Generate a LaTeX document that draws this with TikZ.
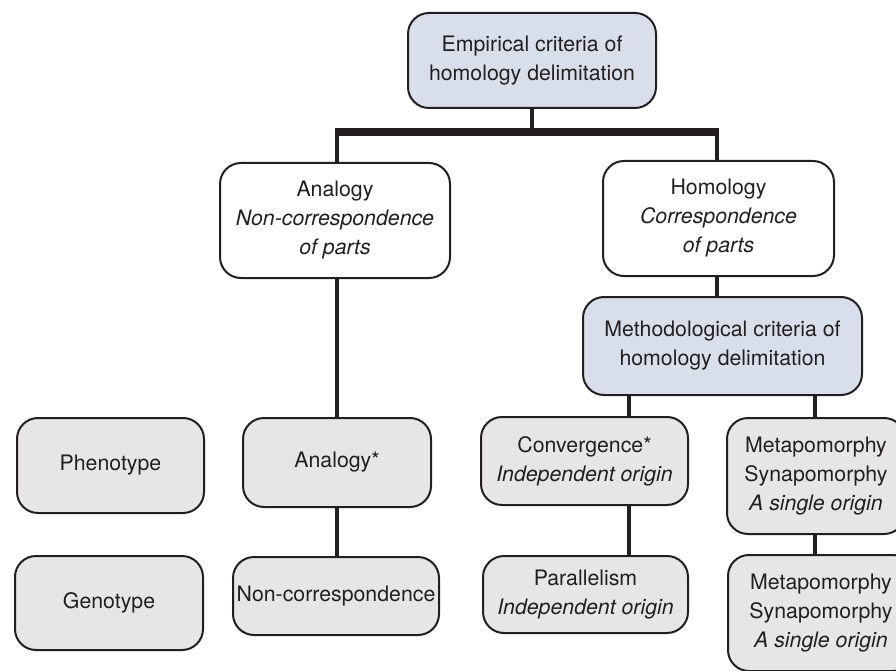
\documentclass[tikz,border=0pt]{standalone}
\usepackage{fontspec}
\setmainfont{TeX Gyre Heros}
\definecolor{ink}{HTML}{231F20}
\definecolor{bluefill}{HTML}{D8DFEB}
\definecolor{grayfill}{HTML}{E6E6E6}
\tikzset{
  box/.style={draw=ink, line width=2pt, rounded corners=21pt, align=center,
    inner sep=0pt, text=ink, font=\fontsize{21.3}{29}\selectfont},
  bluebox/.style={box, fill=bluefill},
  whitebox/.style={box, fill=white},
  graybox/.style={box, fill=grayfill},
  conn/.style={draw=ink, line width=4.4pt},
  bar/.style={draw=ink, line width=8pt},
}
\begin{document}
\begin{tikzpicture}[x=1pt,y=-1pt]
\clip (0,0) rectangle (896,671);
\fill[white] (0,0) rectangle (896,671);
% nodes
\node[bluebox, minimum width=248pt, minimum height=95pt] (top) at (532,60.5)
  {Empirical criteria of\\homology delimitation};
\node[whitebox, minimum width=230pt, minimum height=115pt] (ana) at (335,220.5)
  {Analogy\\\textit{Non-correspondence}\\\textit{of parts}};
\node[whitebox, minimum width=231pt, minimum height=115pt] (hom) at (718.5,218.5)
  {Homology\\\textit{Correspondence}\\\textit{of parts}};
\node[bluebox, minimum width=279pt, minimum height=98pt] (meth) at (722.5,346)
  {Methodological criteria of\\homology delimitation};
\node[graybox, minimum width=187pt, minimum height=95pt] (pheno) at (110.5,465.5)
  {Phenotype};
\node[graybox, minimum width=188pt, minimum height=94pt] (geno) at (109,603)
  {Genotype};
\node[graybox, minimum width=188pt, minimum height=89pt] (anas) at (337,462.5)
  {Analogy*};
\node[graybox, minimum width=206pt, minimum height=78pt] (noncorr) at (336,596)
  {Non-correspondence};
\node[graybox, minimum width=207pt, minimum height=88pt] (conv) at (584.5,461)
  {Convergence*\\\textit{Independent origin}};
\node[graybox, minimum width=205pt, minimum height=77pt] (para) at (585.5,594.5)
  {Parallelism\\\textit{Independent origin}};
\node[graybox, minimum width=178pt, minimum height=116pt] (meta1) at (816,476)
  {Metapomorphy\\Synapomorphy\\\textit{A single origin}};
\node[graybox, minimum width=186pt, minimum height=116pt] (meta2) at (821,613)
  {Metapomorphy\\Synapomorphy\\\textit{A single origin}};
% helper coordinates
\coordinate (barL) at (337,132);
\coordinate (barR) at (717,132);
\coordinate (cvx) at (629,0);
\coordinate (mtx) at (815,0);
% connectors
\draw[conn] (top.south) -- (top.south |- barL);
\draw[bar] ([xshift=-2.2pt]barL) -- ([xshift=2.2pt]barR);
\draw[conn] (barL) -- (ana.north -| barL);
\draw[conn] (barR) -- (hom.north -| barR);
\draw[conn] (ana.south -| barL) -- (anas.north -| barL);
\draw[conn] (anas.south -| barL) -- (noncorr.north -| barL);
\draw[conn] (hom.south -| barR) -- (meth.north -| barR);
\draw[conn] (meth.south -| cvx) -- (conv.north -| cvx);
\draw[conn] (conv.south -| cvx) -- (para.north -| cvx);
\draw[conn] (meth.south -| mtx) -- (meta1.north -| mtx);
\draw[conn] (meta1.south -| mtx) -- (meta2.north -| mtx);
\end{tikzpicture}
\end{document}
